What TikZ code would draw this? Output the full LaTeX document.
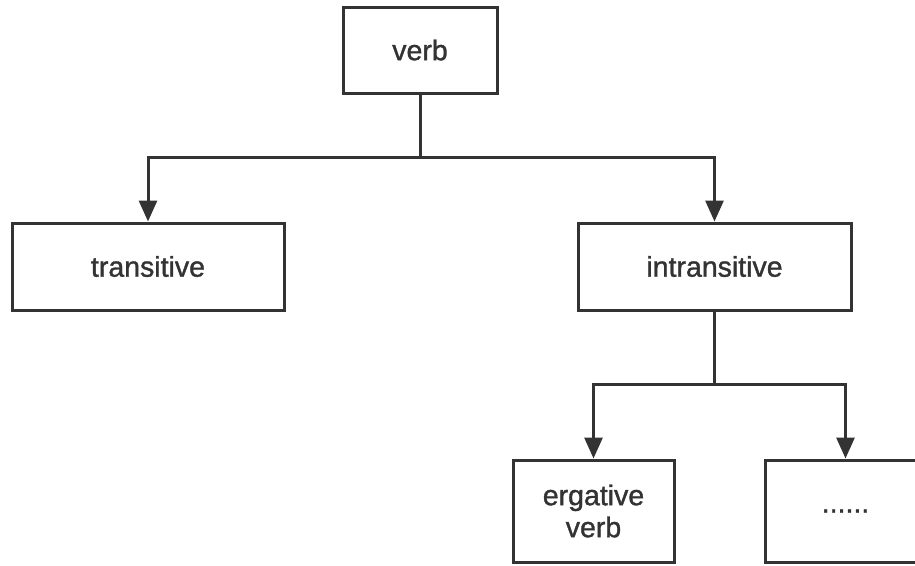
\documentclass[tikz,border=0pt]{standalone}
\usepackage{fontspec}
\setmainfont{Liberation Sans}
\usepackage{xcolor}
\usetikzlibrary{arrows.meta, positioning}
\definecolor{ink}{HTML}{333333}
\tikzset{
  box/.style={
    rectangle, draw=ink, fill=white, line width=3pt,
    text=ink, align=center,
    font=\fontsize{28.5}{32}\selectfont\addfontfeature{FakeBold=1.2}
  },
  link/.style={line width=3pt, draw=ink},
  arrow/.style={-{Triangle[length=21pt,width=18pt]}, line width=3pt, draw=ink},
}

\begin{document}
\begin{tikzpicture}[x=1pt, y=1pt]
  \clip (0,0) rectangle (915,-565);
  \useasboundingbox (0,0) rectangle (915,-565);

  \node[box, minimum width=154pt, minimum height=86pt] (verb) at (420,-50) {verb};
  \node[box, minimum width=272pt, minimum height=87pt] (trans) at (148,-266.5) {transitive};
  \node[box, minimum width=273pt, minimum height=87pt] (intrans) at (714.5,-266.5) {intransitive};
  \node[box, minimum width=161pt, minimum height=102pt] (erg) at (593.5,-511) {ergative\\verb};
  \node[box, minimum width=161pt, minimum height=102pt] (more) at (845.5,-511) {......};

  \coordinate (fork1) at (420,-157);
  \coordinate (fork2) at (714.5,-384);

  \draw[link] (verb) -- (fork1);
  \draw[arrow] (fork1) -| (trans);
  \draw[arrow] (fork1) -| (intrans);

  \draw[link] (intrans) -- (fork2);
  \draw[arrow] (fork2) -| (erg);
  \draw[arrow] (fork2) -| (more);
\end{tikzpicture}
\end{document}
